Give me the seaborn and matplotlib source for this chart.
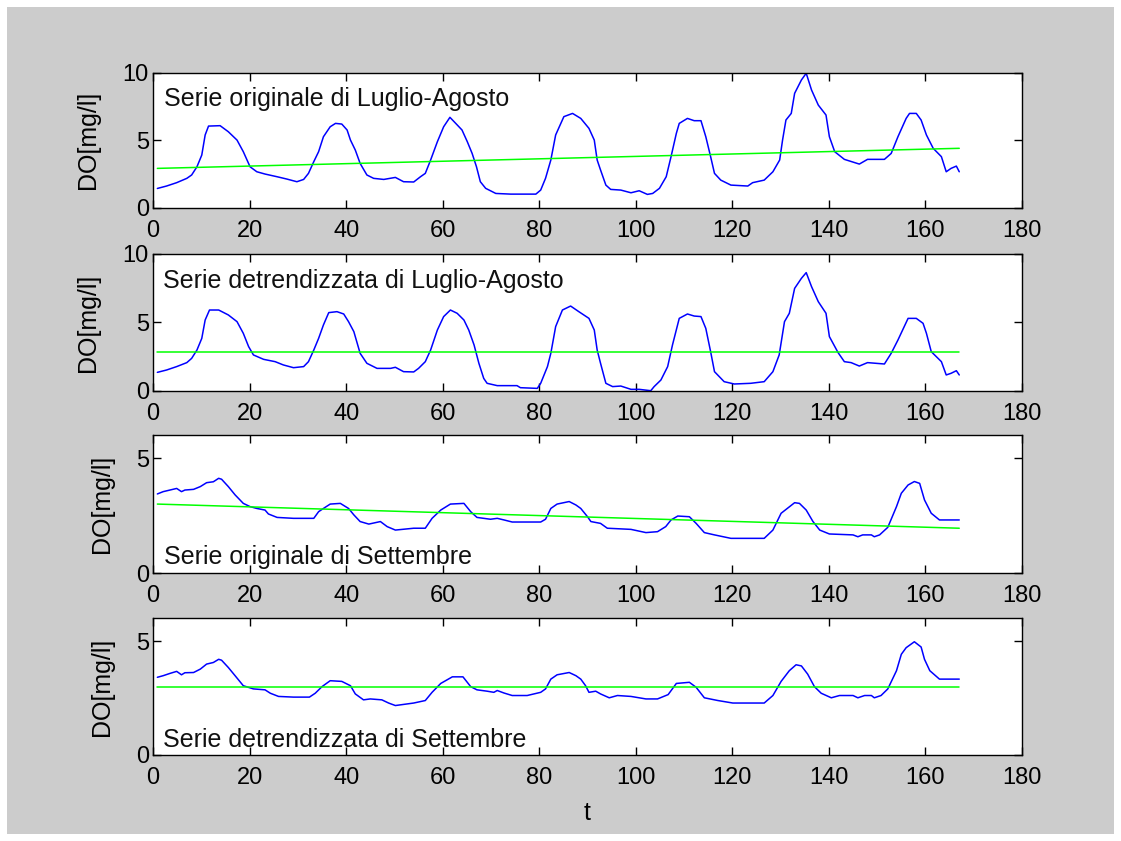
import matplotlib
matplotlib.use("Agg")
import matplotlib.pyplot as plt
from matplotlib.patches import Rectangle
import numpy as np
import pandas as pd
import seaborn as sns

# ---------------- data (hourly dissolved oxygen, one week) ----------------
# July-August, original series
t_la = [0.9, 2.8, 4.9, 7.0, 8.0, 9.1, 10.1, 10.8, 11.5, 13.9, 15.6, 17.4, 18.7, 20.1,
        21.5, 23.2, 25.7, 27.7, 29.8, 31.2, 32.2, 33.3, 34.3, 35.3, 36.7, 37.8, 39.1,
        40.2, 40.9, 41.9, 42.9, 44.3, 45.7, 47.8, 50.2, 51.9, 54.0, 55.4, 56.4, 57.5,
        58.9, 60.2, 61.5, 62.7, 64.0, 65.1, 66.1, 67.0, 67.8, 68.9, 71.0, 74.1, 79.3,
        80.3, 81.3, 82.4, 83.4, 85.1, 86.9, 88.6, 90.3, 91.4, 92.0, 92.7, 93.8, 94.8,
        96.9, 99.0, 100.7, 102.4, 103.5, 104.9, 106.3, 107.3, 108.4, 109.0, 110.7,
        112.1, 113.5, 114.5, 115.5, 116.3, 117.6, 119.7, 123.2, 124.2, 126.6, 128.4,
        129.8, 130.4, 131.1, 132.2, 132.9, 134.3, 135.3, 136.4, 137.8, 139.4, 140.1,
        141.2, 143.2, 146.3, 148.0, 151.5, 152.9, 154.3, 156.0, 156.7, 158.1, 159.1,
        160.2, 161.6, 163.3, 164.3, 165.3, 166.4, 167.0]
do_la = [1.43, 1.61, 1.86, 2.18, 2.43, 3.04, 3.91, 5.40, 6.06, 6.09, 5.64, 5.02, 4.16, 3.04,
         2.67, 2.50, 2.30, 2.13, 1.93, 2.10, 2.55, 3.42, 4.16, 5.27, 6.01, 6.26, 6.21,
         5.77, 5.02, 4.28, 3.29, 2.43, 2.18, 2.10, 2.25, 1.93, 1.91, 2.30, 2.55, 3.54,
         4.90, 6.01, 6.71, 6.26, 5.77, 4.90, 4.03, 3.04, 1.93, 1.44, 1.06, 1.01, 1.01,
         1.31, 2.18, 3.54, 5.40, 6.76, 7.00, 6.63, 5.89, 5.02, 3.54, 2.80, 1.68, 1.36,
         1.31, 1.11, 1.26, 0.99, 1.06, 1.44, 2.30, 3.79, 5.52, 6.26, 6.63,
         6.46, 6.46, 5.27, 3.79, 2.55, 2.05, 1.68, 1.61, 1.86, 2.05, 2.67,
         3.54, 5.02, 6.51, 7.00, 8.49, 9.48, 9.98, 8.74, 7.62, 6.88, 5.27,
         4.16, 3.59, 3.24, 3.59, 3.59, 4.03, 5.27, 6.63, 7.00, 7.00, 6.51,
         5.40, 4.41, 3.79, 2.67, 2.92, 3.09, 2.67]

# July-August, detrended series
t_la_det = [0.9, 2.8, 4.9, 7.0, 8.0, 9.1, 10.1, 10.8, 11.7, 13.6, 15.6, 17.4, 18.7, 19.8,
            20.8, 22.9, 25.3, 27.0, 29.1, 31.2, 32.2, 33.3, 34.3, 35.3, 36.4, 38.1, 39.5,
            40.5, 41.6, 42.9, 44.3, 46.4, 49.2, 50.2, 51.9, 54.0, 55.0, 56.4, 57.5, 58.9,
            60.2, 61.6, 63.0, 64.4, 65.4, 66.5, 67.5, 68.5, 69.2, 71.3, 75.4, 76.1, 79.6,
            80.3, 81.7, 82.4, 83.4, 84.8, 86.5, 88.2, 90.3, 91.4, 92.0, 92.7, 93.8, 95.2,
            96.9, 99.0, 100.7, 103.1, 103.8, 105.2, 106.6, 107.6, 109.0, 110.7, 112.1,
            113.5, 114.5, 115.5, 116.3, 118.3, 120.4, 123.8, 126.6, 128.4, 129.7, 130.8,
            131.8, 132.9, 134.3, 135.3, 136.4, 137.8, 139.4, 140.1, 141.9, 143.2, 144.6,
            146.3, 148.0, 151.5, 152.9, 154.3, 156.4, 158.1, 159.5, 160.2, 161.2, 163.3,
            164.3, 165.3, 166.4, 167.0]
do_la_det = [1.36, 1.53, 1.78, 2.07, 2.38, 2.99, 3.84, 5.18, 5.91, 5.91, 5.55, 5.06, 4.21, 3.24,
             2.63, 2.31, 2.14, 1.90, 1.70, 1.78, 2.14, 2.99, 3.84, 4.82, 5.72, 5.79, 5.62,
             5.06, 4.33, 2.75, 2.02, 1.65, 1.65, 1.73, 1.41, 1.39, 1.65, 2.14, 2.99, 4.45,
             5.43, 5.91, 5.67, 5.18, 4.45, 3.36, 2.02, 0.92, 0.56, 0.39, 0.39, 0.24, 0.19,
             0.56, 1.78, 2.75, 4.70, 5.91, 6.20, 5.79, 5.30, 4.45, 2.99, 2.02, 0.56, 0.32,
             0.36, 0.12, 0.12, 0.02, 0.32, 0.80, 1.78, 3.36, 5.30, 5.62, 5.47,
             5.43, 4.57, 2.87, 1.41, 0.68, 0.51, 0.56, 0.68, 1.41, 2.63, 5.06,
             5.67, 7.49, 8.22, 8.64, 7.62, 6.52, 5.67, 3.97, 2.80, 2.14, 2.07,
             1.82, 2.07, 1.97, 2.75, 3.72, 5.30, 5.30, 4.94, 4.21, 2.87, 2.14,
             1.17, 1.29, 1.48, 1.17]

# September, original series
t_se = [0.9, 2.1, 3.5, 4.9, 5.9, 6.6, 8.4, 9.8, 11.1, 12.5, 13.6, 14.2, 15.6, 17.0, 18.7,
        20.1, 21.5, 23.2, 23.9, 25.7, 29.1, 33.3, 34.3, 35.3, 36.7, 38.8, 40.5, 41.6, 42.9,
        44.7, 47.1, 48.5, 50.2, 54.0, 56.4, 57.8, 59.6, 61.6, 64.4, 65.8, 67.1, 69.9, 71.3,
        72.7, 74.4, 80.3, 81.3, 82.4, 83.7, 86.2, 87.6, 88.6, 90.0, 90.7, 92.7, 94.1, 99.0,
        102.1, 104.5, 106.2, 107.3, 108.7, 111.1, 112.5, 114.2, 116.3, 119.7, 126.6, 128.4,
        130.1, 132.9, 133.9, 135.3, 136.7, 138.1, 140.1, 145.0, 146.0, 147.0, 148.8, 149.4,
        150.5, 152.2, 154.0, 155.0, 156.4, 157.7, 158.8, 159.8, 161.2, 162.9, 167.0]
do_se = [3.45, 3.55, 3.62, 3.69, 3.55, 3.62, 3.65, 3.77, 3.94, 3.98, 4.13, 4.09, 3.77, 3.41, 3.04,
         2.90, 2.82, 2.75, 2.58, 2.43, 2.39, 2.39, 2.68, 2.82, 3.01, 3.04, 2.82, 2.54, 2.25,
         2.14, 2.25, 2.03, 1.88, 1.96, 1.96, 2.39, 2.75, 3.01, 3.04, 2.68, 2.43, 2.35, 2.39,
         2.32, 2.23, 2.23, 2.35, 2.82, 3.01, 3.12, 2.97, 2.82, 2.46, 2.25, 2.17, 1.96, 1.91,
         1.77, 1.81, 2.03, 2.32, 2.49, 2.46, 2.17, 1.77, 1.67, 1.52, 1.52, 1.88,
         2.61, 3.07, 3.04, 2.75, 2.25, 1.88, 1.71, 1.67, 1.59, 1.67, 1.67, 1.59,
         1.67, 2.00, 2.90, 3.48, 3.84, 3.99, 3.91, 3.19, 2.61, 2.32, 2.32]

# September, detrended series
t_se_det = [0.9, 2.1, 3.5, 4.9, 5.9, 6.6, 8.4, 9.8, 11.1, 12.5, 13.6, 14.2, 15.6, 17.0, 18.7,
            20.8, 23.2, 24.3, 26.0, 29.1, 32.4, 33.6, 35.0, 36.7, 39.1, 40.9, 41.9, 43.6,
            45.0, 47.4, 48.8, 50.2, 54.0, 56.4, 57.8, 59.6, 62.0, 64.2, 65.8, 67.1, 69.2,
            70.6, 71.3, 72.7, 74.4, 77.5, 80.3, 81.3, 82.4, 83.7, 86.2, 87.6, 88.6, 89.6,
            90.3, 91.7, 92.7, 94.5, 96.2, 99.0, 102.1, 104.5, 106.7, 108.4, 111.1, 112.5,
            114.2, 117.0, 120.1, 126.6, 128.4, 130.1, 131.8, 133.2, 134.3, 135.6, 137.0,
            138.4, 140.5, 142.2, 145.0, 146.0, 147.4, 148.8, 149.4, 150.8, 152.2, 154.0,
            155.0, 156.0, 157.7, 159.1, 159.8, 160.9, 162.9, 167.0]
do_se_det = [3.41, 3.48, 3.58, 3.67, 3.52, 3.61, 3.62, 3.77, 3.99, 4.06, 4.20, 4.16, 3.84, 3.48, 3.04,
             2.90, 2.86, 2.71, 2.57, 2.54, 2.54, 2.71, 3.00, 3.26, 3.23, 3.04, 2.68, 2.42,
             2.46, 2.42, 2.28, 2.17, 2.28, 2.39, 2.75, 3.14, 3.43, 3.43, 3.00, 2.86, 2.80,
             2.75, 2.83, 2.72, 2.61, 2.61, 2.75, 2.90, 3.33, 3.52, 3.62, 3.48, 3.33, 3.04,
             2.75, 2.80, 2.68, 2.51, 2.61, 2.57, 2.46, 2.46, 2.65, 3.14, 3.19, 2.97,
             2.51, 2.39, 2.28, 2.28, 2.61, 3.23, 3.70, 3.96, 3.91, 3.55, 3.00,
             2.71, 2.51, 2.61, 2.61, 2.51, 2.61, 2.61, 2.51, 2.61, 2.90, 3.70,
             4.42, 4.71, 4.97, 4.74, 4.20, 3.70, 3.33, 3.33]

# linear trends (start, end) and the levels of the detrended series
t_trend = [0.9, 167.0]
trend_la = [2.92, 4.41]
trend_la_det = [2.82, 2.82]
trend_se = [3.01, 1.96]
trend_se_det = [2.97, 2.97]

titles = ["Serie originale di Luglio-Agosto",
          "Serie detrendizzata di Luglio-Agosto",
          "Serie originale di Settembre",
          "Serie detrendizzata di Settembre"]
x_ticks = [0, 20, 40, 60, 80, 100, 120, 140, 160, 180]

# ---------------- style ----------------
sns.set_theme(style="white")
plt.rcParams["font.family"] = ["Liberation Sans", "DejaVu Sans"]
plt.rcParams["axes.linewidth"] = 1.0

W, H = 1121, 841
fig = plt.figure(figsize=(W / 100, H / 100), dpi=100)
fig.patch.set_facecolor("white")
fig.patches.append(Rectangle((7 / W, 7 / H), 1 - 14 / W, 1 - 14 / H,
                             transform=fig.transFigure, facecolor="#cccccc",
                             edgecolor="none", zorder=-10))

left, width = 0.1365, 0.7752
rows = [(0.7530, 0.1602), (0.5351, 0.1629), (0.3183, 0.1641), (0.1023, 0.1625)]

panels = [
    (t_la, do_la, trend_la, (0, 10), [0, 5, 10], (2.2, 7.57)),
    (t_la_det, do_la_det, trend_la_det, (0, 10), [0, 5, 10], (2.0, 7.5)),
    (t_se, do_se, trend_se, (0, 6), [0, 5], (2.3, 0.40)),
    (t_se_det, do_se_det, trend_se_det, (0, 6), [0, 5], (2.0, 0.36)),
]

for i, ((b, h), (tt, yy, tr, ylim, yt, txy)) in enumerate(zip(rows, panels)):
    ax = fig.add_axes([left, b, width, h])
    ax.set_facecolor("white")
    df = pd.DataFrame({"t": tt, "DO": yy})
    sns.lineplot(data=df, x="t", y="DO", ax=ax, color="#0000ff", linewidth=1.1,
                 estimator=None, sort=False)
    dft = pd.DataFrame({"t": t_trend, "DO": tr})
    sns.lineplot(data=dft, x="t", y="DO", ax=ax, color="#00ff00", linewidth=1.1,
                 estimator=None, sort=False)
    ax.set_xlim(0, 180)
    ax.set_ylim(*ylim)
    ax.set_xticks(x_ticks)
    ax.set_yticks(yt)
    ax.tick_params(axis="both", which="both", direction="in", length=6, width=1.0,
                   top=True, right=True, bottom=True, left=True,
                   labelsize=17, colors="black")
    ax.tick_params(axis="x", pad=8.5)
    ax.tick_params(axis="y", pad=3)
    for s in ax.spines.values():
        s.set_visible(True)
        s.set_color("black")
        s.set_linewidth(1.0)
    ax.set_ylabel("DO[mg/l]", fontsize=18, color="black", labelpad=16)
    if i == 3:
        ax.set_xlabel("t", fontsize=18, color="black", labelpad=9)
    else:
        ax.set_xlabel("")
    ax.text(txy[0], txy[1], titles[i], fontsize=18, color="#111111",
            ha="left", va="baseline")

fig.savefig("out.png", dpi=100, facecolor=fig.get_facecolor())
